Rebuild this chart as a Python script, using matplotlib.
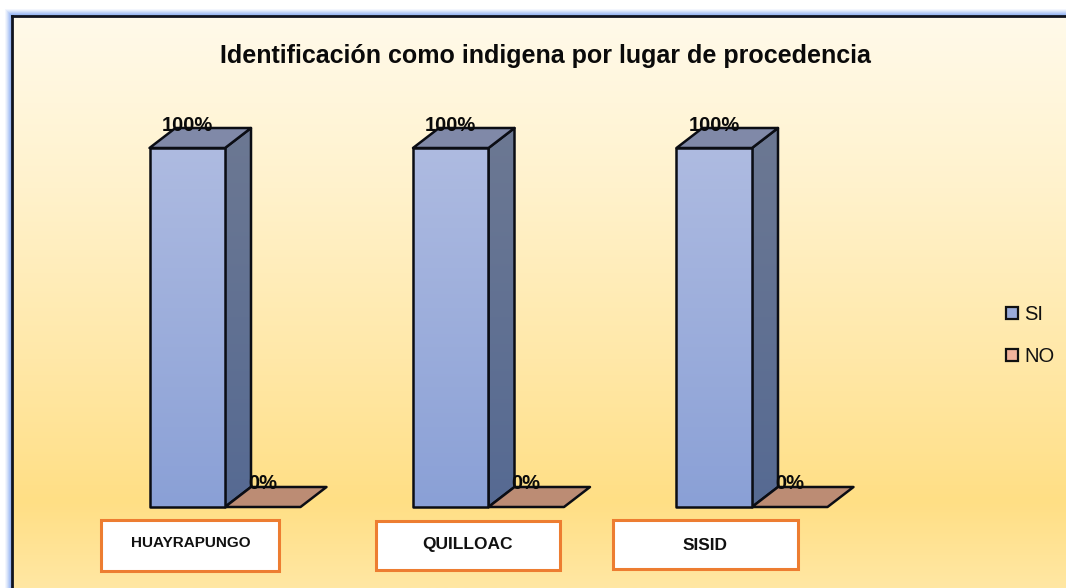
import numpy as np
import matplotlib
matplotlib.use("Agg")
import matplotlib.pyplot as plt
from matplotlib.colors import LinearSegmentedColormap
from matplotlib.patches import Polygon, Rectangle

title = "Identificación como indigena por lugar de procedencia"
lugares = ["HUAYRAPUNGO", "QUILLOAC", "SISID"]
si_values = [100, 100, 100]
no_values = [0, 0, 0]
series_names = ["SI", "NO"]

W, H = 1066, 588
fig = plt.figure(figsize=(W / 100, H / 100), dpi=100, facecolor="white")
plt.rcParams["font.family"] = "Liberation Sans"

# Background layer, in pixels
bg = fig.add_axes([0, 0, 1, 1])
bg.set_xlim(0, W)
bg.set_ylim(H, 0)
bg.axis("off")

# soft blue glow round the frame
for i, a in enumerate([0.1, 0.14, 0.2, 0.28, 0.38, 0.5, 0.65]):
    bg.add_patch(Rectangle((5 + i, 9 + i), W, H, fc="#8fb0f5", ec="none", alpha=a))

back_cmap = LinearSegmentedColormap.from_list(
    "back",
    [(0, "#fffaea"), (0.3, "#fff2cc"), (0.6, "#ffe8a8"), (0.85, "#ffdf85"), (1, "#ffe7a3")],
)
grad = np.linspace(0, 1, 256).reshape(-1, 1)
bg.imshow(grad, cmap=back_cmap, extent=(12, W, H, 16), aspect="auto", zorder=2)
bg.plot([12, 12], [H, 16], color="#10141f", lw=2, zorder=3, solid_capstyle="projecting")
bg.plot([12, W], [16, 16], color="#10141f", lw=2, zorder=3, solid_capstyle="projecting")
bg.set_xlim(0, W)
bg.set_ylim(H, 0)

bg.text(545.5, 56, title, ha="center", va="center", fontsize=18, fontweight="bold",
        color="#0a0a0a", zorder=4)

# Category boxes are hand placed in the original, so they do not line up exactly
boxes = [(101, 520, 178, 51), (376, 521, 184, 49), (613, 520, 185, 49)]
box_text = [(190.5, 543, 11), (467.5, 545, 12.5), (705.5, 545, 12.5)]
for name, (bx, by, bw, bh), (tx, ty, fs) in zip(lugares, boxes, box_text):
    bg.add_patch(Rectangle((bx, by), bw, bh, fc="white", ec="#ed7d31", lw=2.2, zorder=4))
    bg.text(tx, ty, name, ha="center", va="center", fontsize=fs, fontweight="bold",
            color="#111111", zorder=5)

# Chart layer: the front plane of the bars
spacing = 263.5
base_px, top_px = 507, 148
ax = fig.add_axes([(225 - spacing / 2) / W, 1 - base_px / H,
                   3 * spacing / W, (base_px - top_px) / H])
ax.patch.set_alpha(0)
ax.axis("off")

bar_w = 75.5 / spacing
dx = 26 / spacing
dy = 20 / (base_px - top_px) * 100

front_cmap = LinearSegmentedColormap.from_list("front", ["#aebbe1", "#8aa0d6"])
side_cmap = LinearSegmentedColormap.from_list("side", ["#6c7893", "#566a92"])
edge = "#0b0d14"


def shaded(points, cmap, z):
    xs, ys = zip(*points)
    im = ax.imshow(grad, cmap=cmap, extent=(min(xs), max(xs), min(ys), max(ys)),
                   aspect="auto", zorder=z)
    poly = Polygon(points, closed=True, fc="none", ec=edge, lw=1.8, zorder=z + 0.5,
                   joinstyle="round", clip_on=False)
    ax.add_patch(poly)
    # the side face rises above the axes box, so clip to the figure and the face only
    im.set_clip_box(fig.bbox)
    im.set_clip_path(poly)


for i in range(len(lugares)):
    v = si_values[i]
    x0 = i - bar_w
    x1 = i
    shaded([(x1, 0), (x1 + dx, dy), (x1 + dx, v + dy), (x1, v)], side_cmap, 2)
    ax.add_patch(Polygon([(x0, v), (x1, v), (x1 + dx, v + dy), (x0 + dx, v + dy)], closed=True,
                         fc="#8089a8", ec=edge, lw=1.8, zorder=3, joinstyle="round", clip_on=False))
    shaded([(x0, 0), (x1, 0), (x1, v), (x0, v)], front_cmap, 4)
    ax.text(x0 + bar_w / 2, v + dy * 1.15, f"{v}%", ha="center", va="center",
            fontsize=14.5, fontweight="bold", color="#0a0a0a", zorder=8, clip_on=False)

    n = no_values[i]
    ax.add_patch(Polygon([(x1, n), (x1 + bar_w, n), (x1 + bar_w + dx, n + dy), (x1 + dx, n + dy)],
                         closed=True, fc="#bc8c74", ec=edge, lw=1.8, zorder=3, joinstyle="round",
                         clip_on=False))
    ax.text(x1 + bar_w / 2, n + dy * 0.35 + 4.6, f"{n}%", ha="center", va="center",
            fontsize=14.5, fontweight="bold", color="#0a0a0a", zorder=8, clip_on=False)

ax.set_xlim(-0.5, 2.5)
ax.set_ylim(0, 100)

# Legend
for name, color, ly in zip(series_names, ["#9aabd9", "#f2b39c"], [313, 355]):
    bg.add_patch(Rectangle((1006, ly - 6), 12, 12, fc=color, ec="#111111", lw=1.6, zorder=4))
    bg.text(1024, ly + 1, name, ha="left", va="center", fontsize=14.5, color="#111111", zorder=5)

fig.savefig("out.png", dpi=100)
